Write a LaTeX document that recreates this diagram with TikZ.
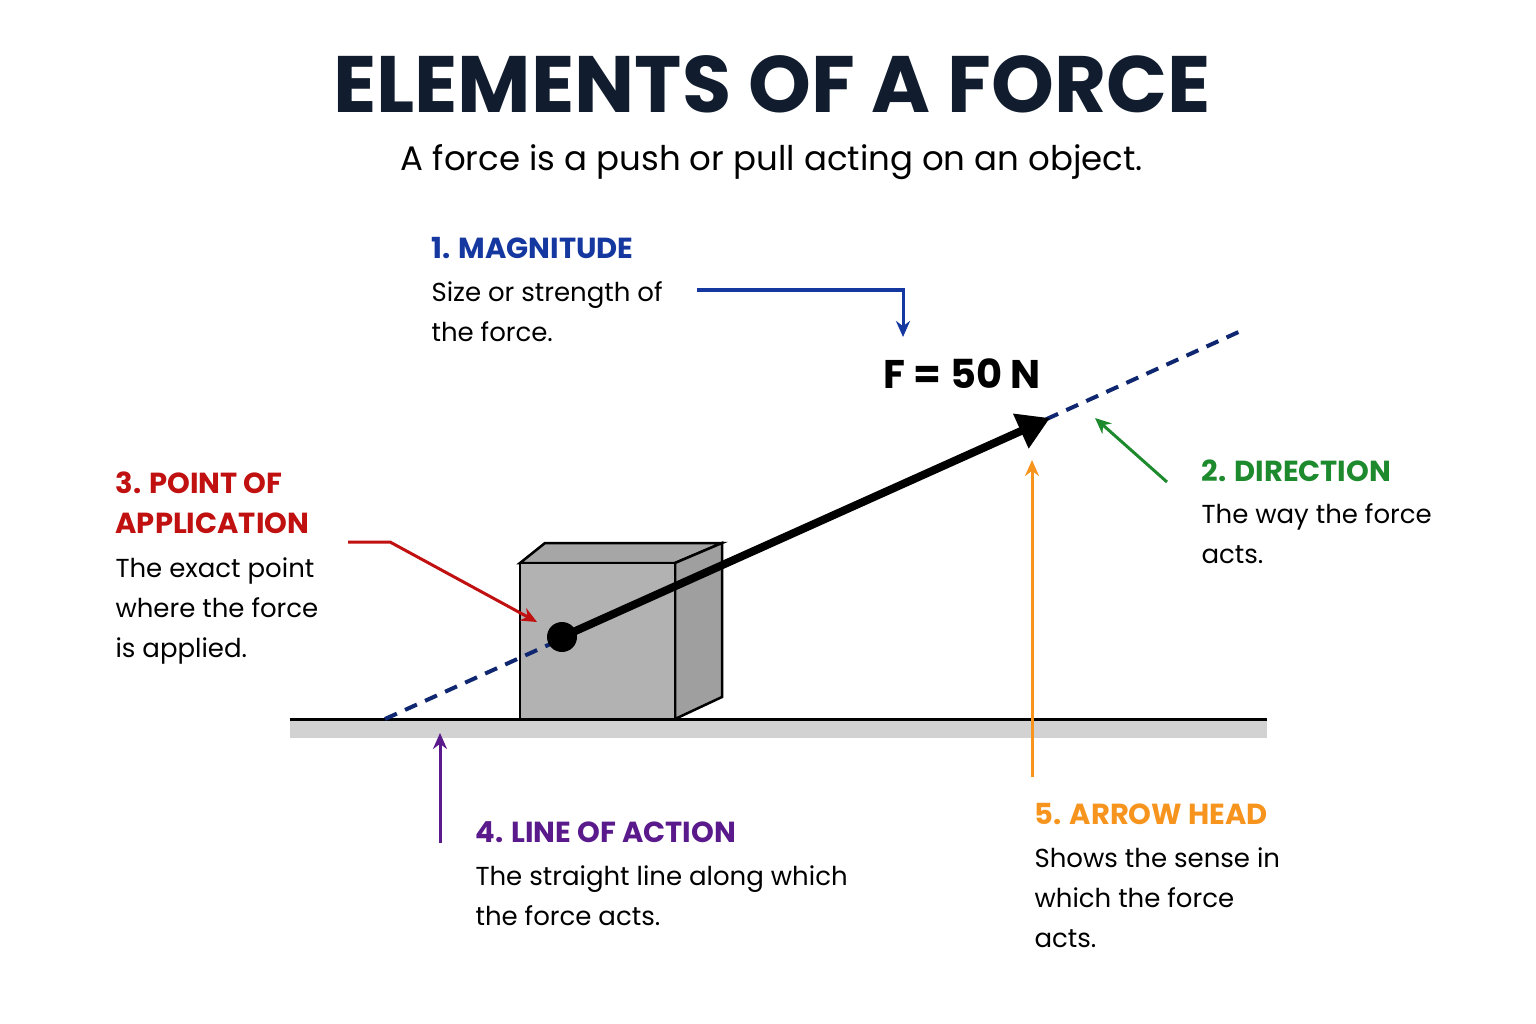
\documentclass[tikz,border=0pt]{standalone}
\usepackage{fontspec}
\setmainfont{Poppins}
\usetikzlibrary{arrows.meta}
\definecolor{navy}{HTML}{111D2E}
\definecolor{cblue}{HTML}{1437A0}
\definecolor{cgreen}{HTML}{1E8A2E}
\definecolor{cred}{HTML}{C01010}
\definecolor{cpurple}{HTML}{5A1A8C}
\definecolor{corange}{HTML}{F7941D}
\begin{document}
\begin{tikzpicture}[x=1pt,y=-1pt,
  head/.style={anchor=north west,font=\fontsize{29}{36}\selectfont\bfseries},
  body/.style={anchor=north west,align=left,font=\fontsize{26}{40}\selectfont,text=black},
  call/.style={line width=3pt,-{Stealth[length=16pt,width=14pt]}}]
\useasboundingbox[fill=white] (0,0) rectangle (1536,1024);
\node[font=\fontsize{80}{90}\selectfont\bfseries,text=navy] (title) at (772,84) {ELEMENTS OF A FORCE};
\node[font=\fontsize{34}{40}\selectfont] (sub) at (772,162) {A force is a push or pull acting on an object.};
% ground
\fill[gray!35] (290,719) rectangle (1267,738);
\draw[line width=3pt] (290,719) -- (1267,719);
% box
\draw[line width=2.5pt,fill=gray!70] (520,563) -- (545,543) -- (722,543) -- (675,563) -- cycle;
\draw[line width=2.5pt,fill=gray!75] (675,563) -- (722,543) -- (722,697) -- (675,719) -- cycle;
\draw[line width=2.5pt,fill=gray!60] (520,563) rectangle (675,719);
% line of action
\coordinate (la1) at (385,719); \coordinate (la2) at (1243,330);
\draw[cblue!70!black,dash pattern=on 13pt off 9pt,line width=4pt] (la1) -- (la2);
% force
\coordinate (P) at (562,637); \coordinate (T) at (1050,418);
\draw[line width=8pt,-{Triangle[length=32pt,width=36pt]}] (P) -- (T);
\fill (P) circle (15);
\node[font=\fontsize{40}{44}\selectfont\bfseries] (F) at (962,374) {F = 50 N};
% labels
\node[head,text=cblue] (h1) at (428,234) {1. MAGNITUDE};
\node[body] (b1) at (428,278) {Size or strength of\\the force.};
\node[head,text=cgreen] (h2) at (1198,456) {2. DIRECTION};
\node[body] (b2) at (1198,500) {The way the force\\acts.};
\node[head,text=cred,align=left,font=\fontsize{29}{40}\selectfont\bfseries] (h3) at (112,468) {3. POINT OF\\APPLICATION};
\node[body] (b3) at (112,554) {The exact point\\where the force\\is applied.};
\node[head,text=cpurple] (h4) at (472,818) {4. LINE OF ACTION};
\node[body] (b4) at (472,862) {The straight line along which\\the force acts.};
\node[head,text=corange] (h5) at (1031,800) {5. ARROW HEAD};
\node[body] (b5) at (1031,844) {Shows the sense in\\which the force\\acts.};
% callouts
\coordinate (m0) at (697,290); \coordinate (m1) at (903,337);
\draw[call,cblue] (m0) -| (m1);
\coordinate (d0) at (1167,482); \coordinate (d1) at (1095,418);
\draw[call,cgreen] (d0) -- (d1);
\coordinate (p0) at (348,542); \coordinate (p1) at (537,622);
\draw[call,cred] (p0) -- (390,542) -- (p1);
\coordinate (l0) at (440,843); \coordinate (l1) at (440,733);
\draw[call,cpurple] (l0) -- (l1);
\coordinate (a0) at (1032,777); \coordinate (a1) at (1032,460);
\draw[call,corange] (a0) -- (a1);
\end{tikzpicture}
\end{document}
